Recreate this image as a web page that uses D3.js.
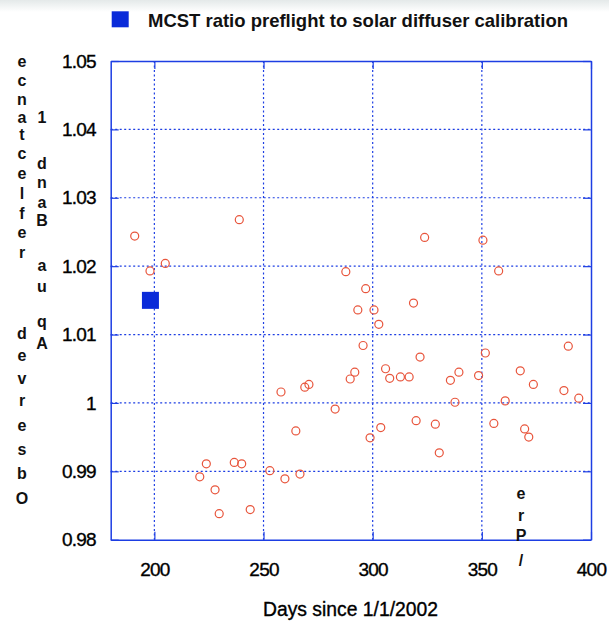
<!DOCTYPE html>
<html>
<head>
<meta charset="utf-8">
<script src="https://cdn.jsdelivr.net/npm/d3@7"></script>
<style>
  body { margin: 0; background: white; }
</style>
</head>
<body>
<div id="wrapper"></div>
<script>
// solar diffuser calibration ratios (day since 1/1/2002, ratio)
const dayValues = [
  191.0, 238.9, 205.0, 198.0, 287.7, 293.2, 291.8, 289.7, 323.8, 350.5,
  357.7, 296.8, 300.6, 318.7, 302.8, 295.6, 389.6, 321.7, 351.6, 305.9,
  339.5, 367.6, 307.8, 312.7, 316.7, 335.6, 348.5, 373.6, 387.6, 394.4,
  337.7, 360.7, 319.9, 328.7, 303.7, 298.8, 355.5, 369.6, 371.5, 330.5,
  268.9, 270.8, 258.0, 282.8, 264.8, 223.8, 236.6, 240.0, 220.8, 252.9,
  259.8, 266.7, 227.8, 229.7, 243.9
];
const ratioValues = [
  1.0244, 1.0268, 1.0204, 1.0193, 1.0192, 1.0136, 1.0045, 1.0035, 1.0242, 1.0238,
  1.0193, 1.0167, 1.0136, 1.0146, 1.0115, 1.0084, 1.0083, 1.0067, 1.0073, 1.0050,
  1.0045, 1.0047, 1.0036, 1.0038, 1.0038, 1.0033, 1.0040, 1.0027, 1.0018, 1.0007,
  1.0001, 1.0003, 0.9974, 0.9969, 0.9964, 0.9949, 0.9970, 0.9962, 0.9950, 0.9927,
  1.0023, 1.0027, 1.0016, 0.9991, 0.9959, 0.9911, 0.9913, 0.9911, 0.9892, 0.9901,
  0.9889, 0.9896, 0.9873, 0.9838, 0.9844
];

// MCST preflight ratio
const preflightDays = [198.2];
const preflightRatios = [1.015];

const xTicks = [200, 250, 300, 350, 400];
const xTickLabels = ["200", "250", "300", "350", "400"];
const yTicks = [0.98, 0.99, 1.00, 1.01, 1.02, 1.03, 1.04, 1.05];
const yTickLabels = ["0.98", "0.99", "1", "1.01", "1.02", "1.03", "1.04", "1.05"];

const legendLabel = "MCST ratio preflight to solar diffuser calibration";
const xTitle = "Days since 1/1/2002";
const yTitle = "Observed reflectance";
const yTitle2 = "Aqua Band 1";

function drawChart() {
  const dimensions = {
    width: 609,
    height: 622,
    margin: { top: 61, right: 18, bottom: 82.3, left: 110.7 }
  };
  dimensions.boundedWidth = dimensions.width - dimensions.margin.left - dimensions.margin.right;
  dimensions.boundedHeight = dimensions.height - dimensions.margin.top - dimensions.margin.bottom;

  const gridBlue = "#1d3ee3";
  const pointRed = "#e8553c";
  const font = "'Liberation Sans', Arial, sans-serif";

  const wrapper = d3.select("#wrapper")
    .append("svg")
    .attr("width", dimensions.width)
    .attr("height", dimensions.height);

  // faint grey band along the top edge
  const defs = wrapper.append("defs");
  const grad = defs.append("linearGradient")
    .attr("id", "topShade")
    .attr("x1", 0).attr("x2", 0).attr("y1", 0).attr("y2", 1);
  grad.append("stop").attr("offset", "0%").attr("stop-color", "#e4e9e9");
  grad.append("stop").attr("offset", "100%").attr("stop-color", "#ffffff");
  wrapper.append("rect")
    .attr("width", dimensions.width)
    .attr("height", 12)
    .attr("fill", "url(#topShade)");

  const xScale = d3.scaleLinear()
    .domain([180, 400])
    .range([0, dimensions.boundedWidth]);

  const yScale = d3.scaleLinear()
    .domain([0.98, 1.05])
    .range([dimensions.boundedHeight, 0]);

  const bounds = wrapper.append("g")
    .attr("transform", `translate(${dimensions.margin.left}, ${dimensions.margin.top})`);

  // dotted grid
  const grid = bounds.append("g");
  grid.selectAll(".vgrid")
    .data(xTicks.filter(d => d < 400))
    .enter()
    .append("line")
    .attr("x1", d => xScale(d))
    .attr("x2", d => xScale(d))
    .attr("y1", 0)
    .attr("y2", dimensions.boundedHeight)
    .attr("stroke", gridBlue)
    .attr("stroke-width", 1.2)
    .attr("stroke-dasharray", "2,2.5");
  grid.selectAll(".hgrid")
    .data(yTicks.filter(d => d > 0.98 && d < 1.05))
    .enter()
    .append("line")
    .attr("x1", 0)
    .attr("x2", dimensions.boundedWidth)
    .attr("y1", d => yScale(d))
    .attr("y2", d => yScale(d))
    .attr("stroke", gridBlue)
    .attr("stroke-width", 1.2)
    .attr("stroke-dasharray", "2,2.5");

  // axes with inward ticks on all four sides
  const tickLen = 8;
  const xAxisBottom = bounds.append("g")
    .attr("transform", `translate(0, ${dimensions.boundedHeight})`)
    .call(d3.axisBottom(xScale).tickValues(xTicks)
      .tickSizeInner(-tickLen).tickSizeOuter(0).tickPadding(23)
      .tickFormat((d, i) => xTickLabels[i]));
  const xAxisTop = bounds.append("g")
    .call(d3.axisTop(xScale).tickValues(xTicks)
      .tickSizeInner(-tickLen).tickSizeOuter(0).tickFormat(""));
  const yAxisLeft = bounds.append("g")
    .call(d3.axisLeft(yScale).tickValues(yTicks)
      .tickSizeInner(-tickLen).tickSizeOuter(0).tickPadding(15)
      .tickFormat((d, i) => yTickLabels[i]));
  const yAxisRight = bounds.append("g")
    .attr("transform", `translate(${dimensions.boundedWidth}, 0)`)
    .call(d3.axisRight(yScale).tickValues(yTicks)
      .tickSizeInner(-tickLen).tickSizeOuter(0).tickFormat(""));

  [xAxisBottom, xAxisTop, yAxisLeft, yAxisRight].forEach(ax => {
    ax.select(".domain").attr("stroke", gridBlue).attr("stroke-width", 1.5);
    ax.selectAll(".tick line").attr("stroke", gridBlue).attr("stroke-width", 1.2);
    ax.selectAll("text")
      .attr("fill", "#000")
      .attr("stroke", "#000")
      .attr("stroke-width", 0.35)
      .style("font-family", font)
      .style("font-size", "19px")
      .style("letter-spacing", "-0.8px");
  });
  xAxisBottom.selectAll("text").attr("dy", "0.71em");

  // data circles
  const points = d3.range(dayValues.length).map(i => ({ day: dayValues[i], ratio: ratioValues[i] }));
  bounds.append("g")
    .selectAll("circle")
    .data(points)
    .enter()
    .append("circle")
    .attr("cx", d => xScale(d.day))
    .attr("cy", d => yScale(d.ratio))
    .attr("r", 4)
    .attr("fill", "none")
    .attr("stroke", pointRed)
    .attr("stroke-width", 1.2);

  // preflight square
  const sq = 17;
  bounds.append("g")
    .selectAll("rect")
    .data(preflightDays.map((d, i) => ({ day: d, ratio: preflightRatios[i] })))
    .enter()
    .append("rect")
    .attr("x", d => xScale(d.day) - sq / 2)
    .attr("y", d => yScale(d.ratio) - sq / 2)
    .attr("width", sq)
    .attr("height", sq)
    .attr("fill", "#0a2bd9");

  // legend
  wrapper.append("rect")
    .attr("x", 111.7)
    .attr("y", 11.3)
    .attr("width", 17)
    .attr("height", 16)
    .attr("fill", "#0a2bd9");
  wrapper.append("text")
    .attr("x", 148)
    .attr("y", 26.5)
    .attr("fill", "#111")
    .attr("textLength", 420)
    .attr("lengthAdjust", "spacingAndGlyphs")
    .style("font-family", font)
    .style("font-weight", "bold")
    .style("font-size", "18.5px")
    .text(legendLabel);

  // x title
  wrapper.append("text")
    .attr("x", 350.5)
    .attr("y", 616)
    .attr("fill", "#000")
    .attr("stroke", "#000")
    .attr("stroke-width", 0.35)
    .attr("text-anchor", "middle")
    .attr("textLength", 175)
    .attr("lengthAdjust", "spacingAndGlyphs")
    .style("font-family", font)
    .style("font-size", "19.5px")
    .text(xTitle);

  // stacked, reversed y titles
  const stackLetters = (letters, x, ys, clip) => {
    const g = wrapper.append("g");
    if (clip) g.attr("clip-path", clip);
    g.selectAll("text")
      .data(letters)
      .enter()
      .append("text")
      .attr("x", x)
      .attr("y", (d, i) => ys[i])
      .attr("text-anchor", "middle")
      .attr("dominant-baseline", "central")
      .attr("fill", "#111")
      .style("font-family", font)
      .style("font-weight", "bold")
      .style("font-size", "16px")
      .text(d => d);
  };

  const title1 = yTitle.split("").reverse().filter(c => c !== " ");
  stackLetters(title1, 22,
    [61, 80, 99, 117, 134, 153, 173, 193, 213, 232, 252, 333, 355, 378, 400, 425, 449, 473, 498]);

  const title2 = yTitle2.split("").reverse().filter(c => c !== " ");
  stackLetters(title2, 42,
    [117, 163, 182, 202, 220, 265, 286, 321, 343]);

  defs.append("clipPath")
    .attr("id", "preClip")
    .append("rect")
    .attr("x", 500).attr("y", 490).attr("width", 50).attr("height", 100);
  stackLetters(["e", "r", "P", "/"], 521, [493, 515, 535, 560], "url(#preClip)");
}

drawChart();
</script>
</body>
</html>
